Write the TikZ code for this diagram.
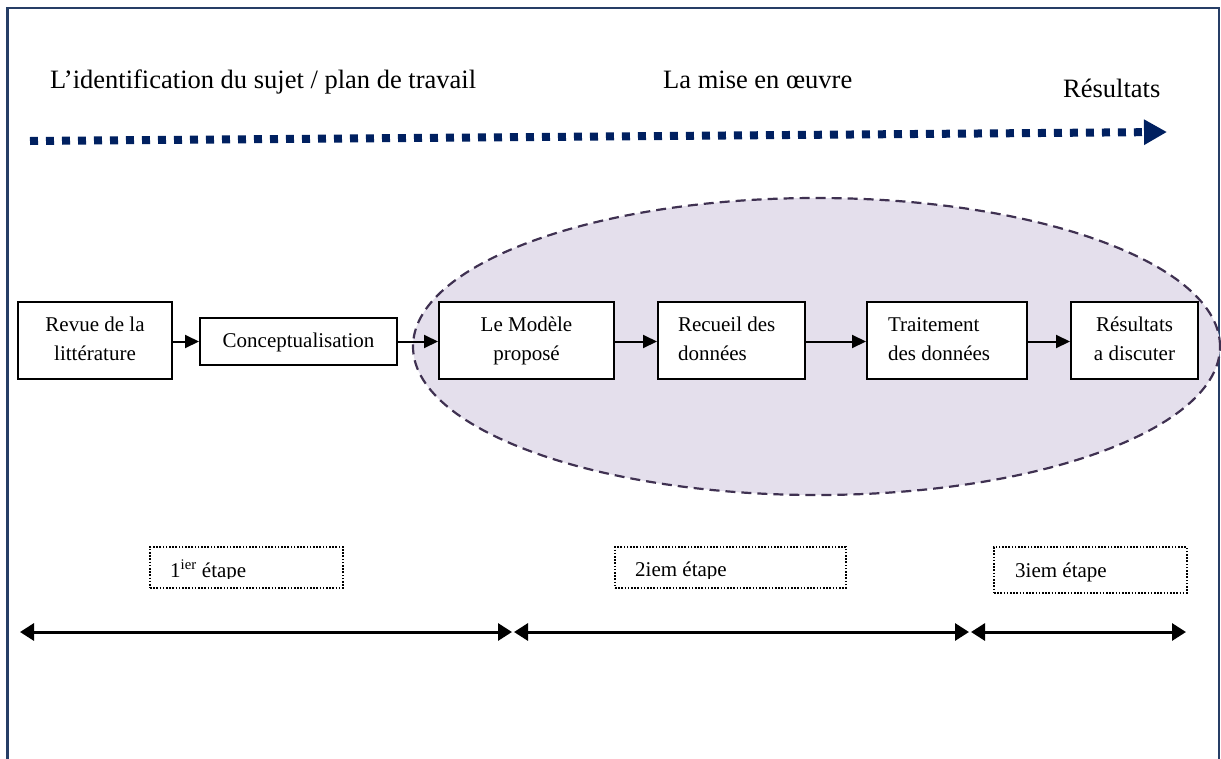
\documentclass[tikz,border=0pt]{standalone}
\usepackage{fontspec}
\setmainfont{Liberation Serif}
\usetikzlibrary{arrows.meta,shapes.geometric}

\definecolor{framecol}{RGB}{38,62,102}
\definecolor{navyline}{RGB}{0,32,96}
\definecolor{zonefill}{RGB}{228,223,236}
\definecolor{zoneline}{RGB}{63,49,81}

\newcommand\hdfont{\fontsize{26.5}{32}\selectfont}
\newcommand\bxfont{\fontsize{21}{29}\selectfont}

\tikzset{
  frameline/.style={draw=framecol, line width=2.5pt},
  heading/.style={font=\hdfont, anchor=base west, inner sep=0pt},
  flow/.style={draw=navyline, line width=8pt, dash pattern=on 8pt off 8pt,
    -{Triangle[length=23pt,width=24pt]}},
  zone/.style={ellipse, draw=zoneline, fill=zonefill, line width=2.2pt,
    dash pattern=on 10pt off 6pt, inner sep=0pt},
  box/.style={draw=black, line width=2pt, fill=white, inner sep=0pt,
    font=\bxfont, minimum height=77pt},
  link/.style={line width=2pt, -{Triangle[length=14pt,width=13pt]}},
  stepbox/.style={draw=black, line width=1.6pt, dash pattern=on 1.6pt off 1.6pt,
    inner sep=0pt},
  steptext/.style={font=\bxfont, anchor=base west, inner sep=0pt},
  span/.style={line width=3pt,
    {Triangle[length=14pt,width=17pt]}-{Triangle[length=14pt,width=17pt]}},
}

\begin{document}
\begin{tikzpicture}[x=1pt, y=-1pt]
  \useasboundingbox (0,0) rectangle (1221,758);

  % outer frame, open at the bottom
  \draw[frameline] (7.5,760) -- (7.5,8) -- (1219,8) -- (1219,760);

  % phase headings
  \node[heading] (h1) at (50,88) {L’identification du sujet / plan de travail};
  \node[heading] (h2) at (663,88) {La mise en œuvre};
  \node[heading] (h3) at (1063,97) {Résultats};

  % dotted progress arrow
  \coordinate (f0) at (30,141);
  \coordinate (f1) at (1167,132);
  \draw[flow] (f0) -- (f1);

  % shaded zone around the last four steps
  \node[zone, minimum width=807pt, minimum height=297pt] (zn) at (816.5,346.5) {};

  % process boxes
  \node[box, minimum width=154pt, align=center] (rev) at (95,340.5)
    {\strut Revue de la\\\strut littérature};
  \node[box, minimum width=197pt, minimum height=47pt] (conc) at (298.5,341.5)
    {\strut Conceptualisation};
  \node[box, minimum width=175pt, align=center] (mod) at (526.5,340.5)
    {\strut Le Modèle\\\strut proposé};
  \node[box, minimum width=147pt, text width=107pt, align=flush left] (rec) at (731.5,340.5)
    {\strut Recueil des\\\strut données};
  \node[box, minimum width=160pt, text width=118pt, align=flush left] (trt) at (947,340.5)
    {\strut Traitement\\\strut des données};
  \node[box, minimum width=127pt, align=center] (res) at (1134.5,340.5)
    {\strut Résultats\\\strut a discuter};

  \draw[link] (rev.east |- 0,341.5) -- (conc.west);
  \draw[link] (conc.east) -- (mod.west |- conc.east);
  \draw[link] (mod.east |- conc.east) -- (rec.west |- conc.east);
  \draw[link] (rec.east |- conc.east) -- (trt.west |- conc.east);
  \draw[link] (trt.east |- conc.east) -- (res.west |- conc.east);

  % stage labels
  \node[stepbox, minimum width=193pt, minimum height=41pt] (e1) at (246.5,567.5) {};
  \node[stepbox, minimum width=231pt, minimum height=41pt] (e2) at (730.5,567.5) {};
  \node[stepbox, minimum width=193pt, minimum height=46pt] (e3) at (1090.5,570) {};
  \begin{scope}
    \clip (e1.north west) rectangle ([yshift=10.5pt]e1.south east);
    \node[steptext] (e1t) at (170,577) {1\textsuperscript{ier} étape};
  \end{scope}
  \begin{scope}
    \clip (e2.north west) rectangle ([yshift=10.5pt]e2.south east);
    \node[steptext] (e2t) at (635,576.5) {2iem étape};
  \end{scope}
  \node[steptext] (e3t) at (1015,577) {3iem étape};

  % stage spans
  \coordinate (s0) at (20,632);
  \coordinate (s1) at (512,632);
  \coordinate (s2) at (514,632);
  \coordinate (s3) at (969,632);
  \coordinate (s4) at (971,632);
  \coordinate (s5) at (1186,632);
  \draw[span] (s0) -- (s1);
  \draw[span] (s2) -- (s3);
  \draw[span] (s4) -- (s5);
\end{tikzpicture}
\end{document}
